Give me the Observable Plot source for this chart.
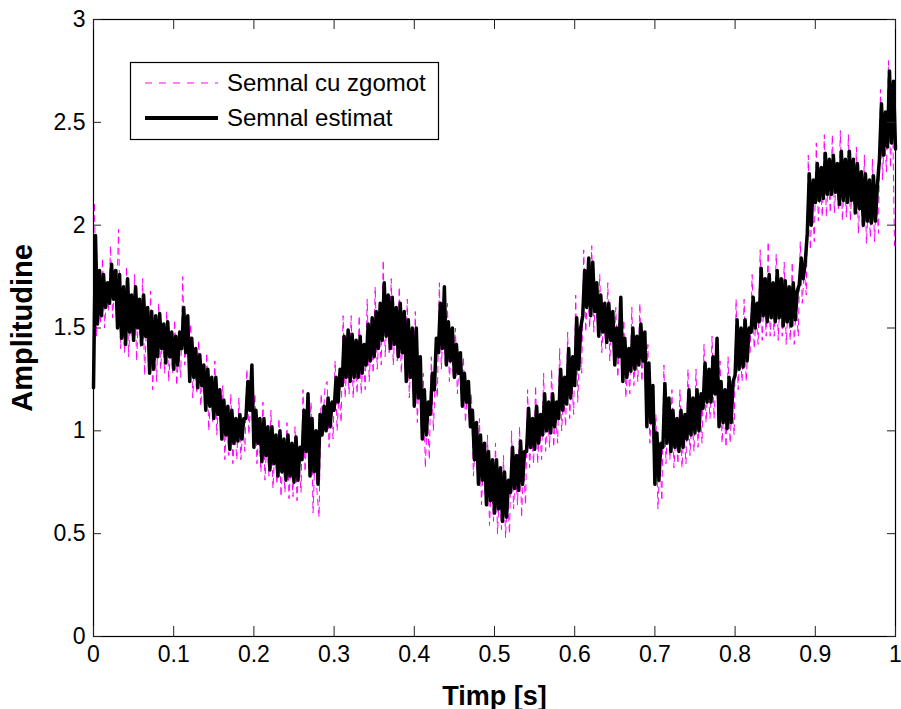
<!DOCTYPE html>
<html>
<head>
<meta charset="utf-8">
<script src="https://cdn.jsdelivr.net/npm/d3@7"></script>
<script src="https://cdn.jsdelivr.net/npm/@observablehq/plot@0.6"></script>
<style>
  html, body { margin: 0; padding: 0; background: #fff; }
  #chart { position: relative; width: 901px; height: 709px; }
  g[aria-label="x-axis label"] text { font-weight: bold; font-size: 27px; }
  g[aria-label="y-axis label"] text { font-weight: bold; font-size: 29px; }
</style>
</head>
<body>
<div id="chart"></div>
<script>
// Sampling step of both series (seconds)
const dt = 0.0025;

// Estimated signal ("Semnal estimat"), t = 0, 0.0025, ..., 1
const estimat = [
  1.21,1.95,1.52,1.78, 1.56,1.76,1.60,1.72,
  1.62,1.81,1.64,1.78, 1.50,1.76,1.45,1.70,
  1.42,1.74,1.48,1.66, 1.44,1.70,1.50,1.64,
  1.42,1.66,1.46,1.60, 1.28,1.58,1.30,1.56,
  1.36,1.57,1.40,1.52, 1.33,1.53,1.36,1.48,
  1.30,1.46,1.32,1.48, 1.40,1.60,1.38,1.56,
  1.24,1.45,1.26,1.40, 1.21,1.37,1.22,1.32,
  1.10,1.30,1.12,1.26, 1.06,1.26,1.08,1.20,
  0.96,1.15,0.98,1.12, 0.91,1.10,0.94,1.06,
  0.95,1.08,0.96,1.06, 1.06,1.24,1.10,1.32,
  0.92,1.10,0.94,1.06, 0.85,1.06,0.88,1.02,
  0.81,1.02,0.84,0.98, 0.78,1.00,0.80,0.96,
  0.76,0.98,0.78,0.94, 0.75,0.97,0.76,0.92,
  0.86,1.10,0.90,1.18, 0.78,1.06,0.80,1.00,
  0.74,1.08,0.98,1.12, 1.00,1.16,1.02,1.14,
  1.10,1.26,1.14,1.30, 1.22,1.46,1.26,1.49,
  1.24,1.47,1.26,1.44, 1.26,1.46,1.28,1.42,
  1.32,1.52,1.34,1.55, 1.36,1.58,1.40,1.62,
  1.44,1.72,1.46,1.66, 1.40,1.65,1.42,1.60,
  1.36,1.62,1.38,1.58, 1.24,1.54,1.26,1.50,
  1.12,1.50,1.16,1.36, 0.96,1.20,0.98,1.14,
  1.08,1.28,1.20,1.45, 1.38,1.62,1.40,1.70,
  1.32,1.53,1.34,1.50, 1.26,1.42,1.28,1.38,
  1.12,1.28,1.14,1.24, 1.02,1.10,0.86,1.04,
  0.74,0.98,0.76,0.94, 0.64,0.90,0.66,0.86,
  0.60,0.86,0.62,0.82, 0.56,0.80,0.58,0.76,
  0.70,0.92,0.72,0.88, 0.71,0.95,0.74,0.90,
  0.90,1.11,0.92,1.06, 0.91,1.12,0.94,1.08,
  0.98,1.18,1.00,1.14, 0.99,1.18,1.02,1.14,
  1.06,1.30,1.10,1.26, 1.13,1.40,1.16,1.36,
  1.22,1.55,1.30,1.50, 1.56,1.78,1.60,1.84,
  1.56,1.82,1.58,1.72, 1.46,1.66,1.48,1.62,
  1.43,1.62,1.44,1.58, 1.32,1.50,1.36,1.65,
  1.24,1.45,1.26,1.40, 1.29,1.50,1.30,1.46,
  1.32,1.52,1.34,1.48, 1.02,1.33,1.04,1.22,
  0.74,0.99,0.76,0.94, 0.92,1.23,0.94,1.16,
  0.90,1.10,0.92,1.06, 0.90,1.10,0.92,1.08,
  0.96,1.20,0.98,1.16, 0.99,1.20,1.00,1.18,
  1.11,1.33,1.14,1.30, 1.14,1.36,1.18,1.45,
  1.02,1.24,1.04,1.20, 1.01,1.26,1.04,1.24,
  1.27,1.54,1.30,1.50, 1.31,1.54,1.34,1.50,
  1.48,1.65,1.50,1.62, 1.53,1.79,1.56,1.74,
  1.53,1.76,1.55,1.72, 1.53,1.78,1.55,1.74,
  1.51,1.73,1.53,1.70, 1.51,1.72,1.54,1.68,
  1.71,1.84,1.74,1.82, 1.96,2.25,2.00,2.22,
  2.11,2.30,2.12,2.28, 2.13,2.35,2.15,2.32,
  2.15,2.34,2.16,2.30, 2.10,2.36,2.12,2.32,
  2.11,2.36,2.12,2.32, 2.06,2.30,2.08,2.26,
  2.00,2.25,2.02,2.22, 2.01,2.24,2.02,2.20,
  2.32,2.59,2.34,2.55, 2.38,2.75,2.40,2.70,
  2.37
];

// Noisy signal ("Semnal cu zgomot"), t = 0.00125, 0.00375, ..., 0.99875
const zgomot = [
  2.10,1.46,1.70,1.52, 1.84,1.50,1.66,1.58,
  1.90,1.55,1.70,1.62, 1.98,1.40,1.60,1.38,
  1.80,1.36,1.56,1.44, 1.76,1.34,1.58,1.40,
  1.74,1.27,1.54,1.36, 1.68,1.20,1.44,1.24,
  1.62,1.30,1.46,1.28, 1.58,1.24,1.42,1.28,
  1.54,1.22,1.38,1.26, 1.75,1.32,1.48,1.30,
  1.52,1.16,1.34,1.18, 1.44,1.12,1.28,1.14,
  1.38,1.00,1.20,1.04, 1.34,0.98,1.16,1.00,
  1.22,0.86,1.06,0.88, 1.18,0.84,1.00,0.86,
  1.16,0.86,1.02,0.90, 1.30,0.98,1.16,1.02,
  1.18,0.84,1.00,0.80, 1.14,0.76,0.96,0.78,
  1.10,0.72,0.92,0.74, 1.06,0.68,0.88,0.70,
  1.04,0.67,0.86,0.68, 1.02,0.66,0.86,0.70,
  1.20,0.80,1.00,0.82, 1.14,0.60,0.90,0.70,
  0.58,1.18,1.04,1.22, 1.24,0.92,1.08,0.96,
  1.34,1.00,1.20,1.04, 1.56,1.16,1.36,1.18,
  1.56,1.16,1.36,1.18, 1.56,1.18,1.36,1.20,
  1.64,1.24,1.44,1.28, 1.70,1.30,1.50,1.32,
  1.83,1.36,1.58,1.38, 1.74,1.32,1.52,1.34,
  1.70,1.28,1.48,1.30, 1.64,1.16,1.40,1.18,
  1.58,1.04,1.30,1.02, 1.28,0.82,1.08,0.86,
  1.36,1.00,1.26,1.16, 1.72,1.30,1.54,1.32,
  1.62,1.24,1.42,1.26, 1.50,1.18,1.34,1.20,
  1.36,1.04,1.20,1.06, 1.18,0.78,0.96,0.80,
  1.06,0.64,0.86,0.66, 0.98,0.54,0.76,0.56,
  0.94,0.50,0.72,0.52, 0.88,0.48,0.68,0.50,
  1.00,0.62,0.80,0.64, 1.02,0.58,0.82,0.64,
  1.20,0.82,1.00,0.84, 1.22,0.84,1.02,0.86,
  1.28,0.90,1.08,0.92, 1.30,0.92,1.08,0.94,
  1.40,1.00,1.18,1.02, 1.48,1.06,1.26,1.08,
  1.66,1.14,1.40,1.28, 1.88,1.48,1.70,1.50,
  1.90,1.48,1.68,1.50, 1.76,1.38,1.56,1.40,
  1.72,1.34,1.52,1.36, 1.60,1.26,1.46,1.28,
  1.54,1.16,1.34,1.18, 1.60,1.22,1.40,1.24,
  1.62,1.24,1.42,1.20, 1.42,0.94,1.16,0.84,
  1.08,0.62,0.86,0.66, 1.32,0.84,1.06,0.86,
  1.20,0.82,1.00,0.84, 1.20,0.82,1.00,0.84,
  1.30,0.88,1.08,0.90, 1.30,0.92,1.10,0.94,
  1.42,1.04,1.22,1.06, 1.46,1.06,1.26,1.10,
  1.34,0.94,1.12,0.92, 1.36,0.94,1.14,0.98,
  1.64,1.20,1.40,1.24, 1.64,1.24,1.42,1.38,
  1.76,1.40,1.56,1.42, 1.88,1.44,1.66,1.46,
  1.92,1.46,1.64,1.46, 1.86,1.44,1.66,1.46,
  1.82,1.42,1.62,1.44, 1.82,1.42,1.62,1.46,
  1.92,1.62,1.78,1.66, 2.34,1.88,2.10,1.92,
  2.40,2.02,2.20,2.04, 2.44,2.04,2.24,2.06,
  2.44,2.06,2.24,2.08, 2.46,2.02,2.24,2.04,
  2.44,2.02,2.24,2.04, 2.38,1.96,2.18,1.98,
  2.34,1.91,2.12,1.94, 2.32,1.92,2.12,1.96,
  2.66,2.22,2.44,2.26, 2.80,2.28,2.56,1.90
];

const xTicks = [0, 0.1, 0.2, 0.3, 0.4, 0.5, 0.6, 0.7, 0.8, 0.9, 1];
const yTicks = [0, 0.5, 1, 1.5, 2, 2.5, 3];

const seriesNames = ["Semnal cu zgomot", "Semnal estimat"];
const seriesColors = ["#ff00ff", "#000000"];

const estData = estimat.map((v, i) => ({t: i * dt, v}));
const zgData = zgomot.map((v, i) => ({t: dt / 2 + i * dt, v}));

const W = 901, H = 709;
const mL = 93, mR = 6, mT = 19, mB = 73;
const fw = W - mL - mR, fh = H - mT - mB;
const FONT = "'Liberation Sans', Arial, Helvetica, sans-serif";

const chart = Plot.plot({
  width: W,
  height: H,
  marginLeft: mL,
  marginRight: mR,
  marginTop: mT,
  marginBottom: mB,
  style: {fontFamily: FONT, fontSize: "23px", color: "#000", background: "#fff"},
  x: {domain: [0, 1]},
  y: {domain: [0, 3]},
  marks: [
    Plot.line(zgData, {x: "t", y: "v", stroke: seriesColors[0], strokeWidth: 1, strokeDasharray: "6,5"}),
    Plot.line(estData, {x: "t", y: "v", stroke: seriesColors[1], strokeWidth: 3.5, strokeLinejoin: "round"}),
    Plot.frame({stroke: "#000", strokeWidth: 1.2}),
    // inward ticks on all four sides
    Plot.tickX(xTicks, {x: d => d, insetTop: fh - 10, stroke: "#222"}),
    Plot.tickX(xTicks, {x: d => d, insetBottom: fh - 10, stroke: "#222"}),
    Plot.tickY(yTicks, {y: d => d, insetRight: fw - 8, stroke: "#222"}),
    Plot.tickY(yTicks, {y: d => d, insetLeft: fw - 8, stroke: "#222"}),
    Plot.axisX(xTicks, {anchor: "bottom", tickSize: 0, tickPadding: 9, tickFormat: d => String(d), label: "Timp [s]", labelAnchor: "center", labelArrow: "none", labelOffset: 68}),
    Plot.axisY(yTicks, {anchor: "left", tickSize: 0, tickPadding: 8, tickFormat: d => String(d), label: "Amplitudine", labelAnchor: "center", labelArrow: "none", labelOffset: 82})
  ]
});

document.getElementById("chart").appendChild(chart);

// Legend box inside the plot area (MATLAB style)
const svg = d3.select(chart);
const lg = svg.append("g")
  .attr("font-family", FONT).attr("font-size", 24).attr("text-anchor", "start");
lg.append("rect").attr("x", 130.5).attr("y", 62.5).attr("width", 308).attr("height", 77)
  .attr("fill", "#fff").attr("stroke", "#000").attr("stroke-width", 1.2);
const rows = [
  {y: 83, dash: "7,7", w: 1.2},
  {y: 118, dash: null, w: 4}
];
rows.forEach((r, i) => {
  lg.append("line").attr("x1", 145).attr("x2", 218).attr("y1", r.y).attr("y2", r.y)
    .attr("stroke", seriesColors[i]).attr("stroke-width", r.w).attr("stroke-dasharray", r.dash);
  lg.append("text").attr("x", 227).attr("y", r.y).attr("dy", "0.35em")
    .attr("text-anchor", "start").attr("fill", "#000").text(seriesNames[i]);
});
</script>
</body>
</html>
